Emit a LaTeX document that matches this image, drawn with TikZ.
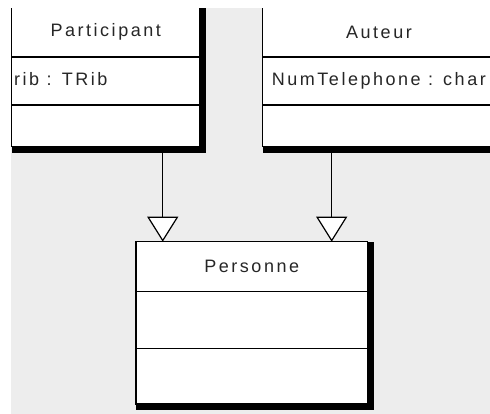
\documentclass[tikz,border=0pt]{standalone}
\usepackage{fontspec}
\setmainfont{Liberation Sans}[LetterSpace=14]
\usepackage{tikz}
\usetikzlibrary{positioning, arrows.meta, calc}
\pgfdeclarelayer{background}
\pgfdeclarelayer{foreground}
\pgfsetlayers{background,main,foreground}
\definecolor{canvas}{HTML}{EDEDED}
\tikzset{
    classbox/.style={draw, fill=white, line width=1.2pt, inner sep=0pt, outer sep=0pt,
      font=\fontsize{18}{20}\selectfont, text=black!85},
    classhead/.style={classbox, minimum height=50pt},
    member/.style={anchor=west, inner sep=0pt, font=\fontsize{18}{20}\selectfont,
      text=black!85, text height=12pt, text depth=3pt},
    inherits/.style={line width=1.2pt, -{Triangle[fill=white, length=25pt, width=31pt]}},
}

\begin{document}
\begin{tikzpicture}[x=1pt, y=1pt]
    \tikzset{node distance=0pt}
    \useasboundingbox (0,0) rectangle (490,414);

    \node[classhead, minimum width=188.5pt] (phead) at (105.75,382) {Participant};
    \node[classbox, minimum width=188.5pt, minimum height=48pt, below=of phead] (pattr) {};
    \node[classbox, minimum width=188.5pt, minimum height=41.7pt, below=of pattr] (pmeth) {};
    \node[member, right=2.5pt of pattr.west] (prib) {rib : TRib};

    \node[classhead, minimum width=232.6pt, right=62.7pt of phead] (ahead) {Auteur};
    \node[classbox, minimum width=232.6pt, minimum height=48pt, below=of ahead] (aattr) {};
    \node[classbox, minimum width=232.6pt, minimum height=41.7pt, below=of aattr] (ameth) {};
    \node[member, right=9pt of aattr.west] (atel) {NumTelephone : char};

    \node[classhead, minimum width=231.5pt] (perhead) at (251.75,147.3) {Personne};
    \node[classbox, minimum width=231.5pt, minimum height=56.6pt, below=of perhead] (perattr) {};
    \node[classbox, minimum width=231.5pt, minimum height=55.7pt, below=of perattr] (permeth) {};

    \draw[inherits] ([xshift=57pt]pmeth.south) -- ([xshift=57pt]pmeth.south |- perhead.north);
    \draw[inherits] ([xshift=69pt]ameth.south west) -- ([xshift=69pt]ameth.south west |- perhead.north);

    \begin{pgfonlayer}{background}
      \fill[canvas] (0,0) rectangle (490,414);
      \foreach \hd/\ft in {phead/pmeth, ahead/ameth, perhead/permeth}
        \fill (\hd.north west) rectangle ([xshift=6pt, yshift=-6pt]\ft.south east);
    \end{pgfonlayer}
    \begin{pgfonlayer}{foreground}
      \fill[white] (0,406) rectangle (490,414);
      \fill[white] (0,0) rectangle (11,414);
    \end{pgfonlayer}
\end{tikzpicture}
\end{document}
